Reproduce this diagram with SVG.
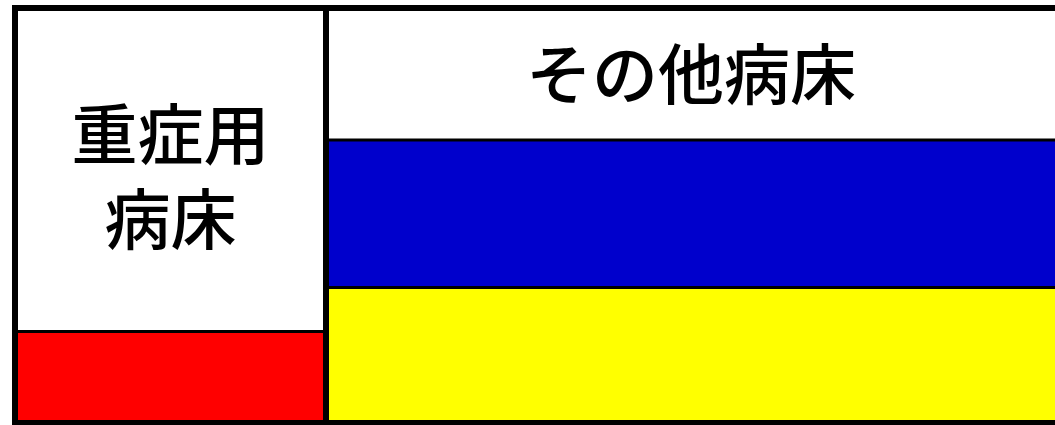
<svg xmlns="http://www.w3.org/2000/svg" width="1055" height="425" viewBox="0 0 1055 425">
<style>
.lbl{font-family:"Noto Sans CJK JP","Noto Sans CJK SC",sans-serif;font-size:66px;font-weight:500;fill:#000;text-anchor:middle}
.thin{stroke:#000;stroke-width:3}
.thick{stroke:#000;stroke-width:6}
</style>
<rect x="0" y="0" width="1055" height="425" fill="#fff"/>
<g id="severe-beds">
<rect x="15" y="8" width="311" height="323.5" fill="#fff"/>
<text class="lbl" x="170.5" y="159">重症用</text>
<text class="lbl" x="170.5" y="244">病床</text>
</g>
<g id="severe-used">
<rect x="15" y="331.5" width="311" height="92" fill="#ff0000"/>
</g>
<g id="other-beds">
<rect x="326" y="8" width="735" height="132" fill="#fff"/>
<text class="lbl" x="691" y="99">その他病床</text>
</g>
<g id="other-blue">
<rect x="326" y="140" width="735" height="147.5" fill="#0000cc"/>
</g>
<g id="other-yellow">
<rect x="326" y="287.5" width="735" height="136" fill="#ffff00"/>
</g>
<g id="connectors">
<line class="thin" x1="15" y1="331.5" x2="326" y2="331.5"/>
<line class="thin" x1="326" y1="140" x2="1058" y2="140"/>
<line class="thin" x1="326" y1="287.5" x2="1058" y2="287.5"/>
<line class="thick" x1="326" y1="8" x2="326" y2="424"/>
<rect x="15" y="8" width="1050" height="415" fill="none" stroke="#000" stroke-width="6"/>
</g>
</svg>
